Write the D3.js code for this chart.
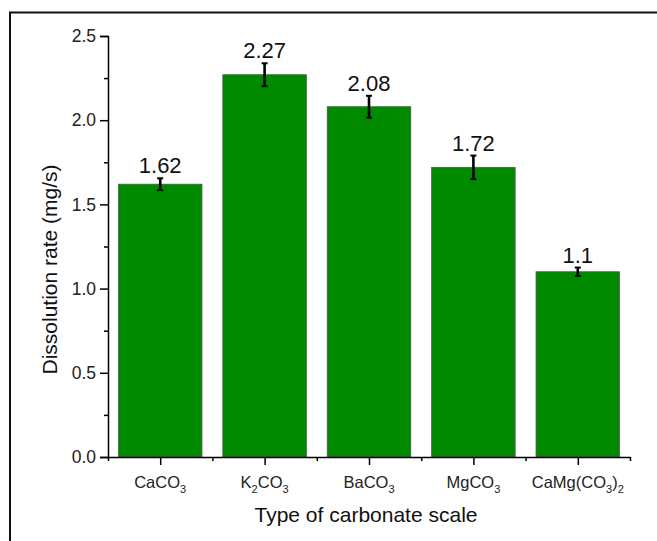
<!DOCTYPE html>
<html>
<head>
<meta charset="utf-8">
<script src="https://cdn.jsdelivr.net/npm/d3@7/dist/d3.min.js"></script>
<style>
  html, body { margin: 0; padding: 0; background: #fff; }
  svg { display: block; font-family: "Liberation Sans", Arial, sans-serif; }
</style>
</head>
<body>
<svg id="chart" width="657" height="541"></svg>
<script>
// Category labels split into text runs; "sub" runs are drawn as subscripts
const categories = [
  [{t: "CaCO"}, {t: "3", sub: true}],
  [{t: "K"}, {t: "2", sub: true}, {t: "CO"}, {t: "3", sub: true}],
  [{t: "BaCO"}, {t: "3", sub: true}],
  [{t: "MgCO"}, {t: "3", sub: true}],
  [{t: "CaMg(CO"}, {t: "3", sub: true}, {t: ")"}, {t: "2", sub: true}]
];
const rates = [1.62, 2.27, 2.08, 1.72, 1.1];
const rateLabels = ["1.62", "2.27", "2.08", "1.72", "1.1"];
const errors = [0.035, 0.068, 0.065, 0.07, 0.025];
const yTicks = [0.0, 0.5, 1.0, 1.5, 2.0, 2.5];
const yMinorTicks = [0.25, 0.75, 1.25, 1.75, 2.25];

const FONT = "Liberation Sans, Arial, sans-serif";
const svg = d3.select("#chart");

// Outer frame (top and left edges visible)
svg.append("path")
  .attr("d", "M10,541 L10,12.5 L657,12.5")
  .attr("fill", "none").attr("stroke", "#111").attr("stroke-width", 2);

const plotL = 108, plotR = 630, plotT = 36, plotB = 457;

// Categories sit at positions 1..5 on a linear axis spanning 0.5..5.5
const x = d3.scaleLinear().domain([0.5, 5.5]).range([plotL, plotR]);
const y = d3.scaleLinear().domain([0, 2.5]).range([plotB, plotT]);
const step = x(2) - x(1);
const barW = step * 0.8;

// Bars
svg.append("g").selectAll("rect").data(rates).join("rect")
  .attr("x", (d, i) => x(i + 1) - barW / 2)
  .attr("y", d => y(d))
  .attr("width", barW)
  .attr("height", d => y(0) - y(d))
  .attr("fill", "#008a00")
  .attr("stroke", "#555")
  .attr("stroke-width", 0.8);

// Error bars
const eg = svg.append("g").attr("stroke", "#000").attr("stroke-width", 2.6);
rates.forEach((v, i) => {
  const cx = x(i + 1);
  const y1 = y(v + errors[i]), y2 = y(v - errors[i]);
  eg.append("line").attr("x1", cx).attr("x2", cx).attr("y1", y1).attr("y2", y2);
  eg.append("line").attr("x1", cx - 3).attr("x2", cx + 3).attr("y1", y1).attr("y2", y1).attr("stroke-width", 2);
  eg.append("line").attr("x1", cx - 3).attr("x2", cx + 3).attr("y1", y2).attr("y2", y2).attr("stroke-width", 2);
});

// Value labels
svg.append("g").selectAll("text").data(rates).join("text")
  .attr("x", (d, i) => x(i + 1))
  .attr("y", (d, i) => y(d + errors[i]) - 5)
  .attr("text-anchor", "middle")
  .attr("font-size", 22)
  .attr("fill", "#111")
  .text((d, i) => rateLabels[i]);

// Y axis
const yAxis = svg.append("g").attr("transform", `translate(${plotL},0)`)
  .call(d3.axisLeft(y).tickValues(yTicks).tickFormat(d3.format(".1f")).tickSize(8).tickPadding(4))
  .attr("font-size", 17.5).attr("font-family", FONT);
yAxis.selectAll(".tick text").attr("fill", "#222");
yAxis.select(".domain").attr("stroke-width", 1.5);
yAxis.selectAll(".tick line").attr("stroke-width", 1.5);
svg.append("g").attr("transform", `translate(${plotL},0)`)
  .call(d3.axisLeft(y).tickValues(yMinorTicks).tickFormat("").tickSize(4))
  .call(g => g.select(".domain").remove())
  .selectAll(".tick line").attr("stroke-width", 1.5);

// X axis: major ticks at categories, minor ticks at boundaries
const xAxis = svg.append("g").attr("transform", `translate(0,${plotB})`)
  .call(d3.axisBottom(x).tickValues([1, 2, 3, 4, 5]).tickFormat("").tickSize(8).tickSizeOuter(0));
xAxis.select(".domain").attr("stroke-width", 1.5);
xAxis.selectAll(".tick line").attr("stroke-width", 1.5);
svg.append("g").attr("transform", `translate(0,${plotB})`)
  .call(d3.axisBottom(x).tickValues([0.5, 1.5, 2.5, 3.5, 4.5, 5.5]).tickFormat("").tickSize(4))
  .call(g => g.select(".domain").remove())
  .selectAll(".tick line").attr("stroke-width", 1.5);

// Category labels with subscripts
const catG = svg.append("g");
categories.forEach((runs, i) => {
  const t = catG.append("text")
    .attr("x", x(i + 1))
    .attr("y", 488)
    .attr("text-anchor", "middle")
    .attr("font-size", 16.5)
    .attr("fill", "#222");
  runs.forEach((r, j) => {
    const prev = j > 0 ? runs[j - 1] : null;
    const s = t.append("tspan").text(r.t);
    if (r.sub) s.attr("font-size", 11).attr("dy", 5);
    else if (prev && prev.sub) s.attr("dy", -5);
  });
});

// Axis titles
svg.append("text")
  .attr("x", 366)
  .attr("y", 522)
  .attr("text-anchor", "middle")
  .attr("font-size", 21)
  .attr("fill", "#111")
  .text("Type of carbonate scale");

svg.append("text")
  .attr("transform", `translate(57,${(plotT + plotB) / 2 + 23}) rotate(-90)`)
  .attr("text-anchor", "middle")
  .attr("font-size", 21)
  .attr("fill", "#111")
  .text("Dissolution rate (mg/s)");
</script>
</body>
</html>
